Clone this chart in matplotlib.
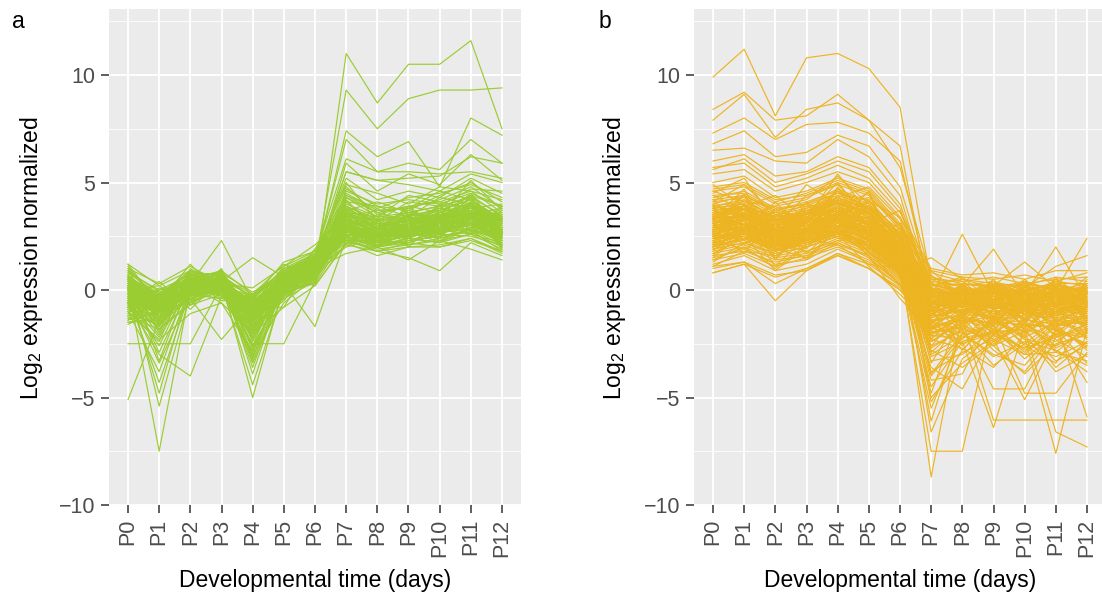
import matplotlib
matplotlib.use("Agg")
import matplotlib.pyplot as plt
import numpy as np

plt.rcParams["font.family"] = ["Liberation Sans", "DejaVu Sans"]
plt.rcParams["mathtext.fontset"] = "custom"
plt.rcParams["mathtext.rm"] = "Liberation Sans"
plt.rcParams["mathtext.it"] = "Liberation Sans"

stages = ["P0", "P1", "P2", "P3", "P4", "P5", "P6", "P7", "P8", "P9", "P10", "P11", "P12"]

# cluster a: genes switched on around P7
green_core = [
    [-0.2, -0.8, 0.1, 0.3, -0.9, 0.4, 1.1, 3.1, 2.5, 2.9, 3.0, 3.4, 2.7],
    [0.5, -0.3, 0.4, 0.0, -0.5, 0.6, 1.2, 2.8, 2.2, 2.6, 2.9, 3.1, 2.4],
    [-0.9, -1.2, -0.2, 0.4, -1.5, 0.1, 0.8, 3.5, 2.9, 3.2, 3.4, 3.8, 3.0],
    [1.2, 0.2, 0.9, 0.6, -0.2, 0.9, 1.5, 2.5, 2.0, 2.3, 2.5, 2.7, 2.0],
    [-1.4, -1.0, -0.5, -0.1, -1.9, -0.2, 0.5, 3.9, 3.3, 3.5, 3.7, 4.2, 3.3],
    [0.1, -0.5, 0.2, 0.5, -0.7, 0.5, 1.3, 3.3, 2.7, 2.8, 3.3, 3.0, 2.9],
    [-0.5, -0.6, 0.5, 0.2, -1.1, 0.2, 0.9, 2.7, 2.4, 3.0, 2.7, 3.5, 2.5],
    [-1.1, -1.6, -0.4, 0.1, -2.2, 0.0, 0.6, 4.3, 3.6, 3.9, 4.1, 4.6, 3.6],
    [0.8, 0.0, 0.7, 0.8, -0.1, 0.8, 1.6, 2.3, 1.9, 2.1, 2.3, 2.6, 1.9],
    [-0.3, -0.9, -0.1, -0.2, -1.3, 0.3, 1.0, 3.0, 2.6, 2.7, 3.1, 3.3, 2.8],
    [0.3, -0.4, 0.0, 0.4, -0.6, 0.7, 1.4, 3.6, 2.8, 3.3, 3.5, 3.9, 3.1],
    [-0.7, -1.3, 0.3, -0.1, -1.7, 0.1, 0.7, 2.9, 2.5, 2.5, 2.8, 3.1, 2.3],
    [-1.6, -0.9, -0.6, 0.3, -1.2, -0.4, 0.4, 3.2, 2.3, 3.1, 2.6, 3.6, 2.6],
    [0.6, -0.2, 0.8, 0.1, -0.4, 1.0, 1.7, 2.6, 2.1, 2.4, 2.2, 2.9, 2.2],
    [-0.1, -1.1, 0.2, 0.6, -0.8, 0.4, 1.2, 3.8, 3.1, 3.0, 3.6, 4.0, 3.4],
    [0.9, -0.1, 0.4, -0.3, -0.3, 0.6, 1.1, 2.2, 2.0, 2.2, 2.6, 2.5, 2.1],
    [-1.2, -0.7, -0.3, 0.0, -2.6, -0.1, 0.3, 4.7, 3.9, 3.7, 4.4, 5.0, 4.1],
    [0.2, -0.6, 0.6, 0.5, -0.9, 0.5, 1.0, 3.3, 2.9, 3.4, 3.2, 3.7, 3.0],
    [-0.6, -1.4, 0.0, 0.2, -1.0, 0.2, 0.8, 2.4, 1.8, 2.0, 2.1, 2.4, 1.7],
    [0.4, -0.3, 0.3, 0.7, -0.4, 0.8, 1.5, 3.1, 2.6, 2.8, 3.0, 3.2, 2.7],
    [-0.4, -1.0, 0.1, 0.9, -1.4, 0.2, 0.9, 4.0, 3.4, 3.6, 3.9, 4.3, 3.5],
    [-0.8, -0.5, -0.2, -0.4, -0.7, 0.0, 0.6, 2.8, 2.2, 2.6, 2.4, 2.8, 2.4],
    [1.0, 0.3, 1.1, 0.3, 0.1, 1.1, 1.8, 2.9, 2.7, 2.5, 2.8, 3.0, 2.6],
    [-1.3, -1.8, -0.7, -0.2, -2.0, -0.3, 0.5, 3.4, 3.0, 3.3, 3.5, 3.9, 3.2],
    [0.0, -0.7, 0.4, 0.2, -1.1, 0.4, 1.1, 2.6, 2.3, 2.7, 2.9, 3.3, 2.6],
    [-0.2, -0.2, 0.6, 0.4, -0.5, 0.6, 1.3, 3.7, 3.2, 3.6, 3.3, 3.5, 2.8],
    [-1.0, -1.1, -0.1, 0.1, -1.6, 0.1, 0.8, 3.0, 2.4, 2.9, 3.2, 3.6, 2.9],
    [0.7, -0.4, 0.5, 0.9, -0.2, 0.7, 1.2, 2.5, 2.1, 2.3, 2.7, 2.8, 2.3],
    [-0.5, -0.8, 0.2, -0.1, -1.2, 0.3, 1.0, 4.5, 3.7, 3.8, 4.2, 4.8, 3.8],
    [0.3, -0.5, 0.7, 0.5, -0.6, 0.5, 1.4, 3.2, 2.8, 3.0, 3.4, 3.0, 2.5],
    [-1.5, -1.3, -0.4, 0.0, -1.8, -0.1, 0.7, 3.6, 3.1, 3.2, 3.1, 4.1, 3.3],
    [0.1, -0.9, 0.3, 0.3, -0.8, 0.4, 0.9, 2.1, 1.8, 2.2, 2.0, 2.3, 1.8],
    [-0.3, -0.4, 0.0, 0.6, -1.0, 0.6, 1.2, 3.4, 2.6, 3.1, 3.5, 3.4, 3.0],
    [0.5, -0.2, 0.9, 0.2, -0.3, 0.9, 1.6, 2.7, 2.5, 2.6, 2.6, 3.1, 2.4],
    [-0.8, -1.5, -0.3, 0.4, -1.3, 0.0, 0.6, 3.9, 3.2, 3.4, 3.8, 4.4, 3.4],
    [0.0, -0.6, 0.1, -0.2, -0.9, 0.3, 1.0, 3.0, 2.7, 2.6, 3.0, 3.3, 2.7],
    [-0.4, -0.9, 0.2, 0.3, -1.0, 0.5, 1.4, 5.2, 4.2, 4.6, 4.3, 5.2, 4.5],
    [0.2, -0.5, 0.5, 0.1, -0.6, 0.7, 1.7, 4.9, 4.5, 4.0, 4.8, 4.6, 4.2],
    [-0.6, -1.0, 0.0, 0.5, -1.3, 0.2, 1.1, 5.5, 5.1, 4.9, 4.6, 5.4, 5.0],
    [0.4, -0.3, 0.4, 0.2, -0.5, 0.6, 1.5, 4.4, 3.8, 4.3, 4.5, 4.9, 4.3],
    [-0.9, -1.2, -0.2, 0.0, -1.5, 0.1, 1.0, 4.6, 4.0, 4.2, 4.0, 4.5, 3.9],
    [0.9, -1.3, 0.6, -0.4, -0.2, 1.2, 0.6, 2.1, 3.0, 2.4, 3.7, 2.8, 3.5],
    [-1.1, 0.1, -0.6, 0.8, -2.4, 0.3, 1.9, 3.8, 2.2, 3.5, 2.4, 4.1, 2.1],
    [0.3, -1.9, 1.0, 0.1, -1.6, -0.5, 1.3, 2.4, 3.3, 2.0, 3.4, 2.6, 3.9],
    [-0.6, 0.4, -0.9, 0.5, -0.3, 0.9, 0.4, 4.2, 2.7, 3.9, 2.8, 3.9, 2.4],
    [1.1, -0.8, 0.2, -0.6, -2.9, 0.5, 1.0, 2.9, 3.8, 2.7, 2.9, 4.4, 2.0],
    [-1.4, -0.3, 0.8, 0.7, -0.9, -0.8, 1.6, 3.3, 2.0, 3.6, 3.9, 3.0, 3.7],
    [0.5, -1.5, -0.3, 1.0, -1.9, 0.7, 0.2, 2.2, 2.9, 2.3, 2.5, 3.7, 1.9],
    [-0.2, -2.1, 0.5, -0.5, -0.4, 1.3, 1.8, 3.6, 3.4, 2.8, 4.0, 3.3, 3.3],
    [0.0, 0.2, -0.7, 0.3, -2.2, 0.0, 0.7, 2.6, 2.4, 3.2, 2.3, 2.9, 2.9],
    [-0.9, -1.7, 0.7, 0.2, -1.0, 0.4, 1.4, 4.1, 3.0, 3.3, 3.2, 4.5, 2.6],
    [0.7, -0.9, 0.0, 0.9, -3.2, 0.8, 1.1, 3.0, 2.1, 2.6, 3.6, 3.4, 3.6],
    [-0.4, -2.6, 0.4, -0.2, -1.4, -0.3, 0.9, 2.7, 3.5, 3.1, 2.7, 3.1, 2.2],
    [1.0, -0.5, 0.9, 0.4, -0.7, 1.1, 2.1, 3.4, 2.6, 2.4, 3.3, 3.8, 3.1],
    [-1.2, -1.1, -0.5, 0.6, -2.7, 0.2, 0.5, 3.9, 2.8, 3.7, 3.0, 3.2, 2.8],
    [0.2, -2.9, 0.2, 0.0, -0.6, 0.6, 1.2, 2.3, 2.3, 2.2, 2.8, 4.0, 2.5],
    [-0.7, 0.0, 0.3, 0.8, -1.8, -0.1, 1.5, 3.2, 3.1, 2.9, 3.5, 2.7, 3.4],
    [0.4, -1.2, -0.4, 0.3, -3.6, 0.4, 0.8, 2.8, 2.5, 3.4, 2.6, 3.6, 2.0],
    [-0.1, -0.6, 1.2, -0.3, -1.1, 0.9, 1.7, 3.7, 2.2, 3.0, 3.8, 3.5, 3.8],
    [-1.5, -1.4, 0.1, 0.5, -0.8, 0.1, 0.3, 2.5, 3.2, 2.5, 3.1, 4.3, 2.7],
    [0.8, -0.2, 0.6, 0.1, -2.3, 0.5, 1.3, 3.5, 2.9, 3.8, 2.9, 3.0, 2.3],
    [-0.3, -3.4, -0.2, 0.7, -1.5, 0.3, 1.0, 2.0, 2.4, 2.1, 2.4, 2.8, 1.8],
    [0.6, -1.0, 0.8, -0.1, -0.4, -0.2, 1.9, 4.4, 3.6, 3.2, 3.7, 4.2, 3.2],
    [-0.8, -0.4, -0.3, 0.4, -2.0, 0.7, 0.6, 3.1, 2.0, 2.8, 2.2, 3.3, 3.0],
    [0.1, -1.6, 0.4, 0.9, -1.3, 1.0, 1.4, 2.7, 2.8, 3.5, 3.3, 3.7, 2.6],
    [-1.0, -2.4, 0.9, 0.2, -3.1, 0.2, 0.9, 3.4, 3.3, 2.7, 2.8, 2.6, 2.9],
    [1.2, -0.7, 0.1, 0.6, -0.9, 0.6, 1.1, 2.4, 2.6, 3.1, 3.4, 4.1, 2.4],
    [-0.5, -1.8, -0.6, 0.0, -1.7, -0.4, 0.7, 3.8, 3.1, 2.4, 2.9, 3.5, 3.5],
    [0.3, -0.1, 0.5, 0.5, -2.6, 0.8, 1.6, 2.9, 2.3, 3.3, 3.1, 3.2, 2.1],
    [-1.3, -1.0, 0.2, 0.3, -0.5, 0.0, 0.4, 3.3, 2.7, 3.0, 3.9, 3.9, 3.1],
    [0.5, -2.0, 0.7, 0.7, -1.2, 0.5, 1.3, 3.6, 2.5, 2.6, 2.5, 3.4, 2.8],
    [-0.1, -0.7, 0.3, 0.2, -0.8, 0.5, 1.3, 4.8, 3.5, 3.9, 3.6, 4.4, 3.9],
    [0.4, -0.2, 0.1, 0.6, -1.2, 0.3, 1.0, 4.1, 3.9, 3.4, 4.3, 4.0, 3.2],
    [-0.6, -1.1, 0.4, 0.1, -0.6, 0.6, 1.5, 5.0, 3.2, 4.1, 3.9, 4.7, 4.6],
    [0.2, -0.8, -0.1, 0.5, -1.7, 0.2, 0.8, 3.7, 4.1, 3.6, 3.4, 5.1, 3.7],
    [-0.9, -0.3, 0.6, 0.3, -0.9, 0.7, 1.2, 4.3, 3.4, 4.4, 4.1, 3.8, 4.0],
    [0.6, -1.4, 0.2, 0.0, -2.1, 0.4, 1.6, 3.4, 3.7, 3.8, 4.6, 4.2, 3.1],
    [-0.3, -0.5, 0.0, 0.7, -0.4, 0.1, 0.9, 2.5, 2.9, 2.6, 3.2, 3.6, 2.4],
    [0.1, -1.0, 0.5, 0.2, -1.4, 0.8, 1.4, 2.9, 2.4, 3.0, 2.9, 3.1, 2.9],
    [-1.2, -0.6, -0.3, 0.5, -1.1, -0.2, 0.6, 3.2, 2.9, 3.3, 3.8, 3.4, 2.6],
    [0.9, -0.4, 0.7, 0.3, -0.7, 0.6, 1.1, 2.8, 2.6, 2.8, 3.1, 3.9, 3.3],
    [-0.5, -2.2, 0.1, -0.1, -2.9, 0.3, 1.2, 3.5, 3.0, 3.5, 3.4, 3.9, 3.0],
    [0.0, -1.7, 0.4, 0.4, -3.3, 0.1, 0.7, 3.1, 2.8, 2.9, 3.3, 3.7, 2.7],
]

green_high = [
    [-0.3, -0.6, 0.3, 0.4, -0.7, 0.5, 0.5, 11.0, 8.7, 10.5, 10.5, 11.6, 7.5],
    [0.2, -0.4, 0.1, 0.6, -0.4, 0.8, 1.2, 9.3, 7.5, 8.9, 9.3, 9.3, 9.4],
    [-0.5, -1.0, 0.4, 0.2, -0.9, 0.3, 1.3, 7.4, 6.2, 6.9, 4.8, 8.0, 7.2],
    [0.1, -0.7, 0.2, 0.3, -0.8, 0.6, 1.4, 7.0, 5.5, 5.5, 5.4, 5.5, 5.2],
    [-0.2, -0.8, 0.0, 0.1, -1.0, 0.4, 1.6, 6.1, 5.5, 5.9, 5.6, 7.0, 5.9],
    [0.3, -0.3, 0.6, 0.5, -0.3, 0.7, 1.5, 5.5, 5.1, 5.2, 5.3, 6.2, 5.9],
    [-0.7, -0.9, 0.2, 0.0, -1.2, 0.2, 1.1, 5.9, 4.6, 5.4, 4.9, 6.3, 5.1],
]

green_low = [
    [0.2, -7.5, 0.1, 0.3, -0.8, 0.4, 1.0, 2.6, 2.2, 2.5, 2.7, 2.9, 2.3],
    [-5.1, -1.4, -0.3, 0.2, -1.1, 0.3, 1.0, 3.1, 2.5, 2.6, 3.0, 3.3, 2.7],
    [-2.5, -2.5, -2.5, 0.2, -0.9, 0.5, 1.2, 3.0, 2.7, 2.8, 3.2, 3.1, 2.8],
    [0.5, -5.4, -0.2, 0.4, -1.3, 0.1, 0.8, 2.9, 2.4, 2.7, 2.8, 3.2, 2.5],
    [0.0, -4.8, 0.3, 0.1, -1.0, 0.3, 1.0, 3.3, 2.6, 3.1, 3.3, 3.6, 3.0],
    [-0.3, -4.3, -0.1, 0.5, -0.8, 0.4, 1.1, 2.5, 2.0, 2.4, 2.2, 2.6, 2.2],
    [-1.0, -3.8, 0.2, 0.3, -1.5, 0.0, 0.9, 3.5, 2.9, 3.0, 3.4, 3.8, 3.1],
    [0.7, -3.3, 0.5, 0.2, -0.6, 0.6, 1.3, 2.8, 2.3, 2.5, 2.9, 3.0, 2.6],
    [-0.6, -3.0, -4.0, -0.3, -1.2, 0.2, 0.8, 2.4, 2.1, 2.9, 2.6, 3.2, 2.4],
    [0.3, -0.6, -0.4, -2.3, -0.6, 0.4, 1.0, 3.2, 2.8, 2.7, 3.1, 3.4, 2.9],
    [-0.2, -0.7, 0.3, 0.4, -5.0, 0.2, 0.9, 2.9, 2.5, 2.8, 3.0, 3.4, 2.7],
    [0.4, -0.5, 0.1, 0.2, -4.4, 0.0, 1.0, 3.1, 2.6, 2.5, 2.8, 3.0, 2.4],
    [-0.4, -1.0, 0.0, 0.6, -3.9, 0.4, 1.2, 2.7, 2.2, 2.6, 2.7, 3.1, 2.5],
    [0.1, -0.3, 0.6, 0.3, -3.4, -0.2, 0.8, 3.3, 2.9, 3.3, 3.5, 3.7, 3.2],
    [-0.8, -0.9, -0.2, 0.1, -3.0, -0.6, 0.6, 3.6, 3.0, 3.2, 3.6, 4.0, 3.3],
    [0.6, -0.4, 0.4, 0.5, -2.8, 0.3, -1.7, 2.4, 2.0, 2.3, 2.5, 2.8, 2.1],
    [-0.4, -0.8, 0.2, 0.0, -2.5, -2.5, 0.4, 2.8, 2.3, 2.7, 2.9, 3.1, 2.6],
    [-0.2, -0.6, 0.3, 2.3, -0.5, 0.5, 1.3, 3.0, 2.6, 2.9, 3.1, 3.5, 2.8],
    [0.0, -0.5, 0.1, 0.4, 1.5, 0.6, 1.2, 3.2, 2.7, 3.0, 3.3, 3.6, 3.0],
    [-0.6, -0.8, 0.2, 0.3, -0.7, 0.5, 1.2, 2.3, 1.8, 1.5, 0.9, 2.2, 1.6],
    [0.3, -0.4, 0.5, 0.2, -0.8, 0.4, 1.0, 1.7, 2.0, 1.4, 2.3, 1.9, 1.4],
    [-1.0, -2.3, -1.1, -0.6, -2.0, -0.8, 0.2, 2.2, 1.6, 2.0, 2.0, 2.4, 1.8],
]

# cluster b: genes switched off around P7
gold_core = [
    [3.0, 3.3, 2.6, 2.9, 3.4, 2.9, 1.6, -0.4, -0.2, -0.3, -0.5, -0.2, -0.4],
    [2.2, 2.5, 1.9, 2.1, 2.7, 2.0, 1.0, -0.8, -0.5, -0.7, -0.6, -0.9, -0.6],
    [4.1, 4.3, 3.5, 3.8, 4.4, 3.9, 2.4, 0.2, 0.3, 0.1, -0.1, 0.4, 0.2],
    [1.5, 1.9, 1.2, 1.4, 2.2, 1.5, 0.4, -1.2, -0.9, -1.1, -1.3, -0.8, -1.0],
    [3.5, 3.9, 2.9, 3.2, 3.7, 3.1, 1.9, -0.1, 0.1, -0.4, -0.2, 0.0, -0.3],
    [2.7, 2.9, 2.3, 2.6, 3.2, 2.6, 1.3, -0.6, -0.3, -0.1, -0.7, -0.4, -0.8],
    [4.6, 4.8, 4.0, 4.3, 4.9, 4.4, 2.8, 0.5, -0.1, 0.3, 0.2, -0.2, 0.1],
    [1.9, 2.2, 1.6, 1.8, 2.4, 1.8, 0.7, -1.0, -0.7, -0.5, -0.9, -1.2, -0.7],
    [3.3, 3.5, 2.8, 3.1, 3.6, 3.3, 1.8, -0.3, -0.6, -0.2, -0.4, -0.6, -0.2],
    [2.5, 2.8, 2.0, 2.4, 2.9, 2.3, 1.1, -0.7, -0.2, -0.8, -0.3, -0.5, -0.9],
    [3.8, 4.0, 3.2, 3.6, 4.1, 3.6, 2.1, 0.0, -0.4, 0.2, -0.1, 0.3, -0.1],
    [1.2, 1.6, 0.9, 1.2, 1.9, 1.3, 0.2, -1.5, -1.1, -1.3, -1.0, -1.4, -1.2],
    [5.0, 5.3, 4.3, 4.6, 5.2, 4.7, 3.1, 0.8, 0.4, 0.6, 0.3, 0.5, 0.6],
    [2.9, 3.1, 2.5, 2.7, 3.0, 2.7, 1.5, -0.5, -0.1, -0.6, -0.8, -0.3, -0.5],
    [3.6, 3.8, 3.0, 3.4, 4.0, 3.5, 2.0, -0.2, -0.5, 0.0, -0.3, -0.1, -0.6],
    [2.0, 2.4, 1.8, 2.2, 2.6, 2.1, 0.9, -0.9, -0.4, -0.9, -0.5, -1.0, -0.4],
    [4.3, 4.6, 3.8, 4.0, 4.7, 4.1, 2.6, 0.3, 0.0, -0.1, 0.1, 0.2, -0.2],
    [2.4, 2.6, 2.1, 2.3, 2.8, 2.4, 1.2, -0.6, -0.8, -0.4, -1.0, -0.6, -0.8],
    [3.1, 3.6, 2.7, 3.0, 3.5, 3.0, 1.7, -0.4, 0.2, -0.5, -0.2, -0.7, -0.3],
    [1.7, 2.0, 1.4, 1.6, 2.3, 1.7, 0.6, -1.1, -0.6, -1.0, -0.8, -0.6, -1.1],
    [3.9, 4.1, 3.4, 3.7, 4.2, 3.8, 2.3, 0.1, -0.2, 0.0, -0.4, -0.1, 0.0],
    [2.6, 3.0, 2.4, 2.5, 3.1, 2.5, 1.4, -0.5, -0.4, -0.6, -0.1, -0.4, -0.6],
    [4.8, 5.0, 4.2, 4.4, 5.0, 4.5, 2.9, 0.4, 0.2, 0.4, 0.0, 0.3, 0.3],
    [2.1, 2.3, 1.7, 2.0, 2.5, 1.9, 0.8, -0.9, -1.0, -0.8, -0.6, -0.9, -0.9],
    [3.4, 3.7, 3.1, 3.3, 3.9, 3.4, 2.2, -0.3, -0.1, -0.3, -0.6, -0.2, -0.4],
    [1.0, 1.3, 0.7, 0.9, 1.7, 1.0, 0.1, -1.7, -1.3, -1.6, -1.4, -1.6, -1.5],
    [2.8, 3.2, 2.2, 2.8, 3.3, 2.8, 1.5, -0.6, -0.2, -0.4, -0.5, -0.8, -0.2],
    [4.4, 4.5, 3.7, 4.1, 4.6, 4.0, 2.5, 0.2, 0.5, 0.1, 0.4, -0.1, 0.2],
    [2.3, 2.7, 2.0, 2.2, 2.6, 2.2, 1.0, -0.8, -0.6, -1.1, -0.7, -0.3, -0.7],
    [3.7, 3.9, 3.3, 3.5, 4.3, 3.7, 2.0, -0.1, -0.3, 0.1, -0.2, 0.1, -0.5],
    [1.4, 1.7, 1.1, 1.5, 2.0, 1.4, 0.3, -1.3, -0.9, -1.4, -1.2, -1.1, -1.3],
    [3.2, 3.4, 2.9, 3.0, 3.5, 3.2, 1.7, -0.4, -0.7, -0.2, -0.3, -0.4, -0.1],
    [5.4, 5.6, 4.6, 5.0, 5.5, 5.0, 3.4, 0.9, 0.6, 0.5, 0.7, 0.4, 0.8],
    [2.5, 2.8, 2.3, 2.4, 3.0, 2.4, 1.3, -0.7, -0.5, -0.6, -0.9, -0.5, -0.8],
    [4.0, 4.4, 3.6, 3.9, 4.5, 3.9, 2.4, 0.0, 0.1, -0.2, 0.0, 0.1, -0.1],
    [1.8, 2.1, 1.5, 1.7, 2.2, 1.6, 0.5, -1.1, -0.8, -0.7, -1.1, -1.0, -0.9],
    [3.0, 3.2, 2.4, 2.9, 3.3, 2.9, 1.6, -0.5, -0.3, -0.5, -0.4, -0.5, -0.4],
    [2.2, 2.6, 1.9, 2.3, 2.7, 2.1, 1.1, -0.8, -0.4, -0.9, -0.6, -0.7, -0.5],
    [3.5, 3.8, 3.2, 3.4, 3.8, 3.3, 1.9, -0.2, -0.4, -0.1, -0.2, -0.3, -0.2],
    [4.7, 4.9, 4.1, 4.5, 5.1, 4.6, 3.0, 0.6, 0.3, 0.2, 0.2, 0.6, 0.4],
    [2.7, 3.0, 2.6, 2.6, 3.1, 2.6, 1.4, -0.6, -0.2, -0.6, -0.8, -0.6, -0.7],
    [1.6, 1.8, 1.3, 1.6, 2.1, 1.6, 0.5, -1.2, -1.0, -1.2, -0.9, -1.3, -1.0],
    [3.9, 4.2, 3.4, 3.6, 4.0, 3.7, 2.3, 0.1, -0.3, 0.3, -0.1, -0.2, 0.0],
    [2.9, 3.3, 2.7, 2.8, 3.2, 2.8, 1.5, -0.5, -0.6, -0.3, -0.3, -0.4, -0.6],
    [4.2, 4.4, 3.7, 4.0, 4.5, 4.2, 2.6, 0.2, 0.0, 0.0, 0.3, 0.0, 0.1],
    [0.8, 1.2, 0.6, 1.0, 1.6, 1.0, 0.0, -1.8, -1.4, -1.5, -1.6, -1.7, -1.4],
    [3.3, 3.5, 3.0, 3.2, 3.7, 3.1, 1.8, -0.3, 0.0, -0.4, -0.5, -0.1, -0.3],
    [2.4, 2.5, 2.0, 2.3, 2.9, 2.3, 1.2, -0.7, -0.5, -0.7, -0.4, -0.8, -0.8],
    [5.7, 5.9, 4.8, 5.2, 5.8, 5.2, 3.6, 1.0, 0.7, 0.8, 0.5, 0.9, 0.9],
    [3.6, 3.7, 3.1, 3.4, 4.1, 3.4, 2.1, -0.1, -0.2, -0.3, -0.1, -0.3, -0.2],
    [0.8, 1.2, -0.5, 0.9, 1.6, 1.0, 0.0, -1.2, -0.9, -1.0, -0.8, -1.1, -1.0],
    [1.1, 1.3, 0.3, 1.0, 1.7, 1.2, 0.2, -1.0, -0.6, -0.8, -1.1, -0.7, -0.9],
    [3.1, 3.4, 2.7, 3.0, 3.6, 3.0, 1.7, -0.3, 2.6, -0.2, -0.4, -0.1, -0.3],
    [2.6, 2.9, 2.4, 2.7, 3.3, 2.7, 1.4, -0.4, 0.2, 1.9, -0.3, -0.2, -0.5],
    [3.8, 4.0, 3.3, 3.5, 4.2, 3.6, 2.2, 0.0, -0.2, 0.2, 1.3, 0.1, -0.1],
    [2.8, 3.1, 2.5, 2.7, 3.2, 2.7, 1.5, -0.5, -0.3, -0.4, -0.2, 2.0, -0.4],
    [3.4, 3.6, 3.0, 3.2, 3.8, 3.3, 1.9, -0.2, 0.0, -0.1, -0.3, 0.0, 2.4],
    [2.3, 2.7, 2.0, 2.2, 2.8, 2.2, 1.0, 1.5, 0.5, 0.3, 0.1, 1.1, 1.6],
    [2.0, 3.6, 1.8, 3.4, 2.9, 3.8, 2.6, -1.2, 0.3, -0.9, -0.2, -1.3, 0.1],
    [4.2, 2.6, 3.7, 2.3, 4.8, 2.9, 0.9, 0.4, -1.1, 0.2, -1.0, 0.0, -1.4],
    [1.6, 2.9, 2.8, 1.9, 3.7, 2.3, 3.1, -0.5, -0.8, 0.5, -1.5, 0.3, -0.6],
    [3.3, 4.7, 2.2, 4.1, 3.1, 4.6, 1.2, -1.6, 0.2, -1.3, 0.4, -1.2, -0.3],
    [2.8, 1.7, 3.5, 2.7, 4.2, 1.9, 2.9, 0.7, -0.4, -1.1, -0.6, -1.7, 0.5],
    [4.9, 3.9, 4.4, 3.3, 5.4, 3.6, 1.8, -0.9, -1.5, 0.1, -1.2, 0.6, -1.6],
    [1.3, 2.2, 2.5, 1.4, 2.8, 1.6, -0.4, -1.9, -0.5, -1.6, -0.4, -1.0, -0.2],
    [3.7, 3.0, 2.6, 3.9, 3.4, 4.1, 3.4, 0.2, 0.6, -0.6, 0.5, -0.8, 0.3],
    [2.5, 4.0, 1.5, 2.8, 4.4, 2.6, 1.5, -1.4, -1.2, 0.0, -1.8, -0.3, -1.1],
    [3.9, 2.3, 3.8, 3.0, 2.6, 3.3, 2.4, -0.3, 0.0, -1.7, 0.2, -1.4, -0.9],
    [1.8, 3.1, 1.1, 2.5, 3.3, 1.5, 0.3, -2.3, -0.9, -0.8, -1.0, -2.1, -0.7],
    [4.5, 5.2, 3.2, 4.9, 4.0, 4.3, 3.0, 0.9, -0.3, 0.4, -0.7, 0.5, -0.4],
    [2.3, 1.9, 2.9, 1.7, 3.0, 2.8, 0.7, -0.8, -1.9, -0.4, -1.4, -0.9, -1.8],
    [3.0, 4.4, 2.0, 3.6, 4.6, 3.0, 2.2, -1.0, 0.1, -1.2, -0.1, -0.5, 0.6],
    [1.1, 1.8, 1.6, 2.4, 2.1, 1.2, 1.0, -1.5, -0.6, -2.1, -0.9, -1.6, -1.3],
    [3.5, 2.8, 4.1, 2.6, 3.9, 4.5, 1.3, -0.1, -1.3, 0.3, -1.6, 0.2, -1.0],
    [2.7, 3.8, 2.3, 3.2, 2.4, 2.5, 2.7, 0.5, 0.4, -0.7, 0.0, -1.1, -0.5],
    [4.0, 3.3, 3.0, 4.4, 4.9, 3.5, 0.6, -1.3, -0.7, -1.0, -2.0, -0.2, -1.9],
    [1.9, 2.5, 0.9, 2.0, 2.5, 2.0, 1.9, -2.0, -1.7, -0.2, -1.1, -0.7, -0.1],
    [3.2, 4.2, 3.3, 2.9, 3.6, 3.9, 2.8, 0.0, -0.5, -1.4, 0.3, -1.5, -0.8],
    [2.1, 3.3, 2.7, 3.1, 3.8, 2.2, 1.1, -1.1, 0.0, -0.6, -1.3, 0.1, -1.5],
    [4.4, 3.7, 2.9, 3.8, 4.3, 4.8, 3.3, -0.6, -1.0, 0.2, -0.8, -0.6, 0.2],
    [1.5, 2.7, 1.9, 1.5, 2.9, 1.8, 0.2, -1.7, -1.4, -1.8, -0.5, -1.9, -1.2],
    [3.6, 3.2, 3.6, 3.5, 5.0, 3.2, 2.0, 0.3, -0.2, -0.9, -0.4, 0.0, -0.7],
    [2.9, 4.5, 2.1, 3.3, 3.2, 2.9, 1.6, -0.7, -1.6, -0.5, -1.7, -0.8, -1.7],
    [3.1, 2.1, 3.1, 2.2, 3.5, 3.6, 2.5, -1.8, -0.3, -1.5, -0.3, -1.8, -0.4],
    [2.4, 3.5, 1.4, 2.9, 2.7, 2.1, 0.8, -0.2, -1.1, 0.0, -1.9, -0.6, -1.6],
    [4.6, 4.1, 3.9, 4.2, 5.3, 4.0, 2.3, -0.4, 0.2, -0.3, -0.6, -0.4, -0.1],
    [1.7, 2.4, 2.2, 1.8, 2.3, 2.4, 1.4, -2.4, -1.5, -1.2, -2.2, -1.5, -2.0],
    [3.4, 3.0, 2.4, 3.7, 4.1, 3.1, 3.7, 0.1, -0.8, 0.1, -0.9, 0.4, -0.6],
    [2.2, 4.0, 2.6, 2.4, 3.4, 2.7, 1.0, -1.2, -0.2, -1.9, -0.5, -1.2, -0.3],
    [3.8, 2.7, 3.4, 4.0, 3.3, 4.2, 2.1, -0.5, -1.8, -0.1, -1.4, -0.1, -1.3],
    [1.4, 2.0, 1.0, 2.1, 2.6, 1.1, -0.2, -1.6, -0.4, -1.4, -0.7, -2.2, -0.9],
    [4.1, 4.9, 3.5, 3.1, 4.7, 3.7, 2.7, -0.8, -0.6, -0.8, -1.0, -0.2, -1.2],
    [2.6, 2.3, 3.0, 3.4, 2.9, 3.4, 1.8, -1.4, -1.2, -2.3, -1.6, -2.6, -1.0],
    [3.3, 3.9, 2.0, 2.7, 3.9, 2.5, 1.2, -2.1, -2.3, -0.9, -2.0, -1.0, -2.3],
    [2.0, 2.8, 2.5, 2.6, 3.2, 1.7, 0.9, -2.6, -1.0, -2.6, -1.3, -1.9, -2.5],
    [3.7, 3.4, 3.9, 3.1, 4.6, 3.8, 2.4, -0.9, -2.6, -1.3, -2.5, -1.4, -1.6],
    [2.8, 3.6, 2.3, 3.6, 3.5, 3.0, 1.5, -1.7, -0.9, -2.0, -0.8, -2.7, -2.0],
    [3.0, 2.6, 2.8, 2.5, 3.0, 2.6, 2.0, -3.0, -2.1, -1.7, -2.9, -1.6, -2.8],
]

gold_high = [
    [9.9, 11.2, 8.1, 10.8, 11.0, 10.3, 8.5, 0.3, -0.2, 0.0, -0.3, 0.2, -0.1],
    [8.4, 9.2, 7.9, 8.1, 9.1, 7.9, 6.7, -0.6, -0.4, -0.5, -0.2, -0.6, -0.3],
    [7.9, 9.1, 7.1, 8.4, 8.7, 7.9, 5.7, 0.6, 0.1, -0.2, 0.4, 0.0, 0.3],
    [7.3, 8.0, 7.0, 7.7, 7.8, 7.3, 6.0, -0.2, -0.6, 0.2, -0.4, -0.3, -0.5],
    [6.8, 7.4, 6.2, 6.4, 7.2, 6.7, 4.8, 0.1, -0.3, -0.1, 0.0, 0.3, -0.2],
    [6.5, 6.6, 6.0, 5.9, 7.0, 6.2, 4.4, -0.4, 0.2, -0.3, -0.5, -0.1, 0.1],
    [6.0, 6.3, 5.3, 5.5, 6.2, 5.7, 4.0, 0.0, 0.3, 0.1, -0.2, 0.2, 0.0],
    [5.6, 6.1, 5.0, 5.4, 6.0, 5.5, 3.8, -0.3, -0.1, -0.4, 0.1, -0.3, -0.2],
]

gold_low = [
    [3.0, 3.2, 2.5, 2.9, 3.5, 2.8, 1.4, -8.7, -1.0, -0.6, -0.9, -0.5, -0.8],
    [2.6, 2.9, 2.2, 2.6, 3.1, 2.4, 1.0, -7.5, -7.5, -1.2, -0.7, -0.9, -1.1],
    [3.4, 3.6, 3.0, 3.3, 3.9, 3.1, 1.6, -6.1, -1.5, -0.9, -1.3, -0.8, -1.2],
    [2.2, 2.5, 2.0, 2.3, 2.8, 2.1, 0.8, -5.5, -2.0, -1.6, -1.0, -1.5, -1.3],
    [3.8, 4.0, 3.3, 3.6, 4.2, 3.5, 1.9, -4.8, -0.8, -1.4, -2.1, -1.0, -1.7],
    [2.9, 3.1, 2.6, 2.8, 3.3, 2.7, 1.3, -4.2, -3.9, -1.2, -1.8, -2.4, -1.5],
    [1.9, 2.2, 1.7, 2.0, 2.5, 1.8, 0.6, -3.6, -4.6, -2.0, -1.1, -1.3, -2.2],
    [3.2, 3.4, 2.8, 3.0, 3.6, 3.0, 1.7, -3.1, -2.4, -6.4, -1.7, -1.4, -1.9],
    [2.4, 2.8, 2.1, 2.4, 2.9, 2.3, 1.1, -2.7, -1.8, -4.6, -4.6, -1.8, -2.6],
    [3.6, 3.8, 3.2, 3.4, 3.9, 3.4, 2.0, -2.4, -1.4, -6.05, -6.05, -6.05, -6.05],
    [2.7, 3.0, 2.4, 2.7, 3.2, 2.6, 1.2, -2.0, -1.6, -2.3, -5.1, -2.2, -1.6],
    [3.1, 3.3, 2.7, 3.0, 3.4, 2.9, 1.5, -1.8, -1.2, -1.6, -4.8, -4.8, -2.9],
    [2.0, 2.4, 1.8, 2.1, 2.6, 1.9, 0.7, -1.6, -2.2, -1.5, -2.2, -7.6, -1.8],
    [3.5, 3.7, 3.1, 3.3, 3.8, 3.3, 1.8, -2.2, -1.7, -2.6, -1.9, -6.6, -7.3],
    [2.5, 2.7, 2.2, 2.4, 2.9, 2.3, 1.0, -1.9, -2.5, -2.0, -2.7, -1.5, -5.9],
    [2.8, 3.0, 2.5, 2.8, 3.3, 2.7, 1.3, -3.3, -3.0, -1.8, -3.2, -2.0, -4.3],
    [3.3, 3.5, 2.9, 3.2, 3.7, 3.1, 1.7, -2.6, -1.9, -3.5, -2.5, -3.1, -2.4],
    [2.1, 2.4, 1.9, 2.2, 2.7, 2.0, 0.9, -5.0, -3.4, -2.4, -1.4, -2.8, -3.5],
    [3.7, 3.9, 3.4, 3.5, 4.0, 3.6, 2.1, -2.0, -1.3, -2.8, -3.8, -2.0, -2.2],
    [2.6, 2.9, 2.3, 2.6, 3.2, 2.5, 1.2, -1.4, -2.8, -1.2, -2.6, -3.4, -1.4],
    [3.2, 3.0, 2.9, 3.1, 3.6, 3.3, 1.9, -3.4, -1.1, -2.2, -1.5, -2.9, -1.7],
    [2.5, 3.4, 2.1, 2.6, 3.0, 2.4, 1.1, -4.5, -2.4, -1.9, -3.0, -1.7, -2.7],
    [3.9, 3.5, 3.2, 3.7, 4.3, 3.8, 2.6, -5.2, -2.8, -1.3, -2.3, -2.6, -1.9],
    [2.3, 2.6, 2.4, 2.2, 2.7, 2.2, 0.9, -2.8, -3.6, -2.5, -1.6, -2.3, -3.1],
    [3.5, 3.8, 2.6, 3.3, 3.8, 3.0, 1.6, -3.9, -2.0, -3.0, -3.5, -1.9, -2.5],
    [2.8, 2.9, 2.7, 2.9, 3.4, 2.9, 1.4, -2.3, -2.7, -3.6, -2.1, -3.8, -3.0],
    [3.1, 3.6, 2.8, 3.0, 3.6, 3.2, 2.0, -6.6, -3.2, -2.1, -2.7, -2.2, -1.8],
    [2.2, 2.5, 1.8, 2.4, 2.9, 2.0, 0.7, -1.8, -2.0, -3.1, -2.4, -2.8, -3.8],
    [3.6, 3.9, 3.1, 3.5, 4.1, 3.5, 2.2, -2.9, -1.6, -2.6, -3.9, -2.5, -2.1],
    [2.7, 2.8, 2.3, 2.6, 3.2, 2.6, 1.3, -1.7, -2.4, -1.9, -1.9, -3.3, -2.6],
    [3.0, 3.3, 2.7, 2.9, 3.4, 2.9, 1.6, -3.8, -2.9, -2.3, -3.0, -2.9, -3.3],
    [2.4, 2.7, 2.1, 2.5, 3.0, 2.3, 1.0, -2.1, -1.3, -1.7, -2.8, -2.1, -2.0],
    [3.3, 3.4, 2.8, 3.2, 3.7, 3.0, 1.8, -4.0, -2.2, -2.0, -1.8, -3.6, -2.4],
    [2.9, 3.2, 2.5, 2.8, 3.3, 2.8, 1.5, -1.5, -1.8, -2.4, -1.6, -1.8, -3.4],
]

GREEN = "#9ACD32"
GOLD = "#EEB422"
PANEL_BG = "#EBEBEB"
W, H = 1102, 596
PANEL_W = 411.4


def style_panel(ax):
    ax.set_facecolor(PANEL_BG)
    for side in ax.spines.values():
        side.set_visible(False)
    ax.set_xlim(-0.6, len(stages) - 0.4)
    ax.set_ylim(-10, 13.07)
    ax.set_xticks(np.arange(len(stages)))
    ax.set_xticklabels(stages, rotation=90)
    ax.set_yticks([-10, -5, 0, 5, 10])
    ax.set_yticklabels(["\u221210", "\u22125", "0", "5", "10"])
    ax.set_yticks([-7.5, -2.5, 2.5, 7.5, 12.5], minor=True)
    ax.tick_params(axis="both", which="major", length=5.5, width=1.1, color="#333333",
                   labelsize=15.5, labelcolor="#4D4D4D", pad=4.5)
    ax.tick_params(axis="y", which="minor", length=0)
    ax.grid(True, which="major", color="white", linewidth=1.3)
    ax.grid(True, which="minor", axis="y", color="white", linewidth=0.6)
    ax.set_axisbelow(True)


def draw_panel(left_px, groups, color, letter, letter_x, ylab_x):
    ax = fig.add_axes([left_px / W, 91 / H, PANEL_W / W, 496 / H])
    style_panel(ax)
    x = np.arange(len(stages))
    for group in groups:
        for row in group:
            ax.plot(x, row, color=color, linewidth=0.85)
    fig.text((left_px + PANEL_W / 2) / W, 1 - 580 / H, "Developmental time (days)",
             fontsize=16.5, ha="center", va="center")
    fig.text(ylab_x / W, 1 - 258 / H, r"Log$_2$ expression normalized",
             fontsize=16.5, rotation=90, ha="center", va="center")
    fig.text(letter_x / W, 1 - 21 / H, letter, fontsize=16.5, ha="center", va="center")
    return ax


fig = plt.figure(figsize=(W / 100, H / 100), dpi=100)
draw_panel(109.3, [green_core, green_low, green_high], GREEN, "a", 18, 31.5)
draw_panel(694.3, [gold_core, gold_low, gold_high], GOLD, "b", 605, 615)
fig.savefig("out.png", dpi=100)
